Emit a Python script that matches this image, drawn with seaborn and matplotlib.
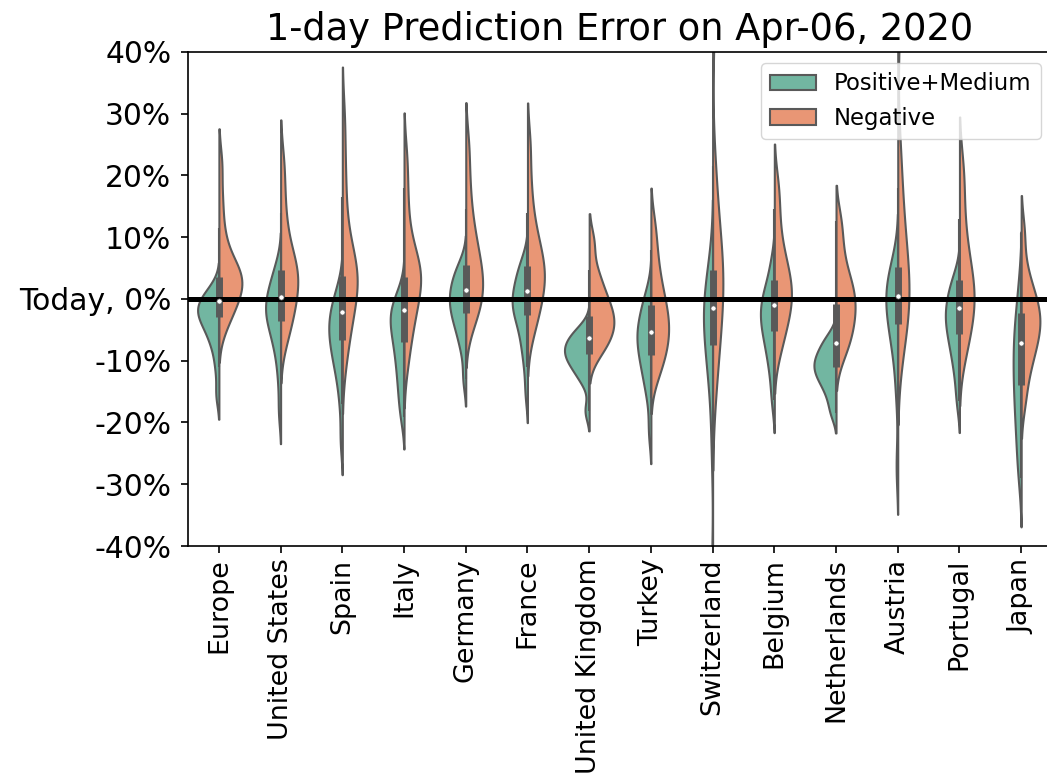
import numpy as np
import pandas as pd
import matplotlib
matplotlib.use("Agg")
import matplotlib.pyplot as plt
import seaborn as sns

countries = ["Europe", "United States", "Spain", "Italy", "Germany", "France",
             "United Kingdom", "Turkey", "Switzerland", "Belgium", "Netherlands",
             "Austria", "Portugal", "Japan"]
groups = ["Positive+Medium", "Negative"]

# 1-day prediction errors in %
europe_pos = [-15.4, -11, -8, -6.5, -5.2, -4.2, -3.4, -2.8, -2.2, -1.7, -1.2, -0.6, 0, 0.8, 1.8]
europe_neg = [-4.5, -2.8, -1.5, -0.5, 0.4, 1.2, 2, 2.9, 3.4, 3.9, 4.4, 5, 6.5, 8.5, 11.5, 16, 21.8]
us_pos = [-18.2, -13, -9.5, -7.5, -6, -4.8, -3.8, -3, -2.3, -1.6, -0.9, -0.2, 0.6, 1.5, 2.6, 4, 5.5]
us_neg = [-7, -5, -3.3, -2, -0.8, 0.3, 1.3, 2.3, 3.3, 4.4, 5, 5.6, 7, 8.8, 11, 14, 18, 22.4]
spain_pos = [-22.8, -17, -13.5, -11.5, -10, -8.7, -7.6, -6.6, -5.7, -4.8, -3.9, -3, -2.1, -1.1, 0.2, 2]
spain_neg = [-10, -6.5, -4, -2.2, -0.8, 0.5, 2, 3, 3.7, 4.5, 5.8, 6.5, 8.5, 12, 16.5, 22, 29]
italy_pos = [-19.1, -16.5, -14.3, -12.4, -10.7, -9.2, -7.8, -6.6, -5.5, -4.5, -3.6, -2.8, -2, -1.2, -0.3, 1.2]
italy_neg = [-10.5, -7, -4.8, -3, -1.5, -0.2, 1, 2.3, 2.8, 3.8, 4.5, 5.5, 6.5, 7.5, 10, 13.5, 18, 23]
germany_pos = [-12.9, -8.5, -6.3, -4.8, -3.6, -2.6, -1.7, -0.9, -0.1, 0.7, 1.5, 2.4, 3.4, 4.5, 5.8]
germany_neg = [-4, -2.4, -1, 0.2, 1.3, 2.4, 3.5, 4.7, 6, 7.5, 9.3, 11.5, 14.5, 19, 24.7]
france_pos = [-15.2, -11, -8.5, -6.7, -5.2, -3.9, -2.7, -2, -1.6, -0.6, -0.1, 0.4, 1.3, 2.2, 3.1, 4.1, 5.2, 6.4]
france_neg = [-5.5, -3.3, -1.6, -0.1, 1.2, 2.3, 3.3, 4.3, 5.3, 6.4, 7.7, 9.2, 11.2, 14, 18.5, 24.8]
uk_pos = [-18.1, -13.5, -12, -11, -10.2, -9.5, -8.9, -8.3, -7.7, -7.1, -6.4, -5.6, -4.6]
uk_neg = [-9, -7.5, -6.3, -5.3, -4.4, -3.5, -2.6, -1.6, -0.5, 0.8, 2.5, 4.7, 9.2]
turkey_pos = [-21.4, -16, -13.5, -11.8, -10.4, -9.2, -8.1, -7.1, -6.2, -5.3, -4.4, -3.4, -2.2, -0.6, 1]
turkey_neg = [-12.5, -10.5, -9, -7.7, -6.5, -5.4, -4.3, -3.2, -2, -0.7, 0.8, 2.6, 5, 8, 11.9]
swiss_pos = [-45, -24, -15.5, -12, -9.5, -7.6, -6, -4.6, -3.3, -2.1, -1, 0.1, 1.3, 2.8, 5]
swiss_neg = [-15, -10, -6.8, -4.2, -2, 0, 2, 4, 5, 6.3, 9, 12, 16, 21.5, 45]
belgium_pos = [-16.4, -12.5, -10, -8.2, -6.7, -5.5, -4.4, -3.4, -2.5, -1.6, -0.7, 0.3, 1.5, 3, 6]
belgium_neg = [-8.7, -6, -4.2, -2.7, -1.4, -0.3, 0.8, 1.9, 3, 4.3, 5.8, 7.7, 10.5, 14.5, 18.5]
nl_pos = [-18.4, -16, -14.3, -13.2, -12.3, -11.5, -10.8, -10.1, -9.3, -8.4, -7.3, -6]
nl_neg = [-9, -7, -5.3, -3.8, -2.4, -1.1, 0.2, 1.5, 3, 5, 8.5, 12.6]
austria_pos = [-27.1, -15, -9.5, -7, -5.1, -3.6, -2.3, -1.1, 0, 1, 2, 3.1, 4.4, 6]
austria_neg = [-8, -5.3, -3.2, -1.5, 0.1, 1.6, 3.2, 5, 7.2, 10, 13.5, 18, 24, 45]
portugal_pos = [-16.6, -13, -10.5, -8.7, -7.3, -6, -4.9, -3.9, -3, -2.1, -1.2, -0.2, 1, 2.3, 3.8]
portugal_neg = [-9.5, -6.8, -4.8, -3.2, -1.8, -0.5, 0.7, 2, 3.4, 5, 7, 9.5, 13, 17.5, 21.7]
japan_pos = [-29, -26, -23, -20.6, -18.5, -16.6, -14.8, -13.1, -11.5, -9.9, -8.3, -6.7, -5, -3.2, -1, 3]
japan_neg = [-16.5, -12.5, -10.2, -8.5, -7.1, -5.9, -4.8, -3.8, -2.8, -1.8, -0.7, 0.6, 2.2, 5, 10.7]

pos_errors = [europe_pos, us_pos, spain_pos, italy_pos, germany_pos, france_pos, uk_pos,
              turkey_pos, swiss_pos, belgium_pos, nl_pos, austria_pos, portugal_pos, japan_pos]
neg_errors = [europe_neg, us_neg, spain_neg, italy_neg, germany_neg, france_neg, uk_neg,
              turkey_neg, swiss_neg, belgium_neg, nl_neg, austria_neg, portugal_neg, japan_neg]

yticks = [-40, -30, -20, -10, 0, 10, 20, 30, 40]
ytick_labels = ["-40%", "-30%", "-20%", "-10%", "Today, 0%", "10%", "20%", "30%", "40%"]

rows = []
for c, p, n in zip(countries, pos_errors, neg_errors):
    rows += [(c, groups[0], v) for v in p]
    rows += [(c, groups[1], v) for v in n]
df = pd.DataFrame(rows, columns=["country", "type", "error"])

gray = "#595959"

fig = plt.figure(figsize=(10.47, 7.78), dpi=100)
ax = fig.add_axes([0.1796, 0.2982, 0.8252, 0.635])

sns.violinplot(data=df, x="country", y="error", hue="type", order=countries,
               hue_order=groups, split=True, inner=None, cut=2, bw_adjust=0.75,
               palette="Set2", saturation=0.75, linewidth=1.5, linecolor=gray,
               width=0.8, ax=ax)

# old-style inner box: one box for both halves, white dot for the median
for i, c in enumerate(countries):
    vals = df.loc[df["country"] == c, "error"].to_numpy()
    q25, q50, q75 = np.percentile(vals, [25, 50, 75])
    lim = 1.5 * (q75 - q25)
    lo = vals[vals >= q25 - lim].min()
    hi = vals[vals <= q75 + lim].max()
    ax.vlines(i, lo, hi, color=gray, lw=1.5, zorder=3)
    ax.vlines(i, q25, q75, color=gray, lw=5, zorder=3)
    ax.scatter(i, q50, s=14, color="white", edgecolor=gray, linewidth=0.5, zorder=6)

ax.axhline(0, color="black", lw=3.6, zorder=5)

ax.set_xlim(-0.5, len(countries) - 0.5)
ax.set_ylim(-40, 40)
ax.set_yticks(yticks)
ax.set_yticklabels(ytick_labels)
ax.tick_params(axis="y", labelsize=21.4, length=5, width=1.2, pad=7)
ax.tick_params(axis="x", labelsize=19.4, labelrotation=90, length=5, width=1.2, pad=4)
ax.set_xlabel("")
ax.set_ylabel("")
for s in ax.spines.values():
    s.set_linewidth(1.2)

ax.set_title("1-day Prediction Error on Apr-06, 2020", fontsize=26.5, pad=8.6)

handles, labels = ax.get_legend_handles_labels()
ax.legend(handles, labels, loc="upper right", fontsize=16.4)

fig.savefig("out.png", dpi=100)
